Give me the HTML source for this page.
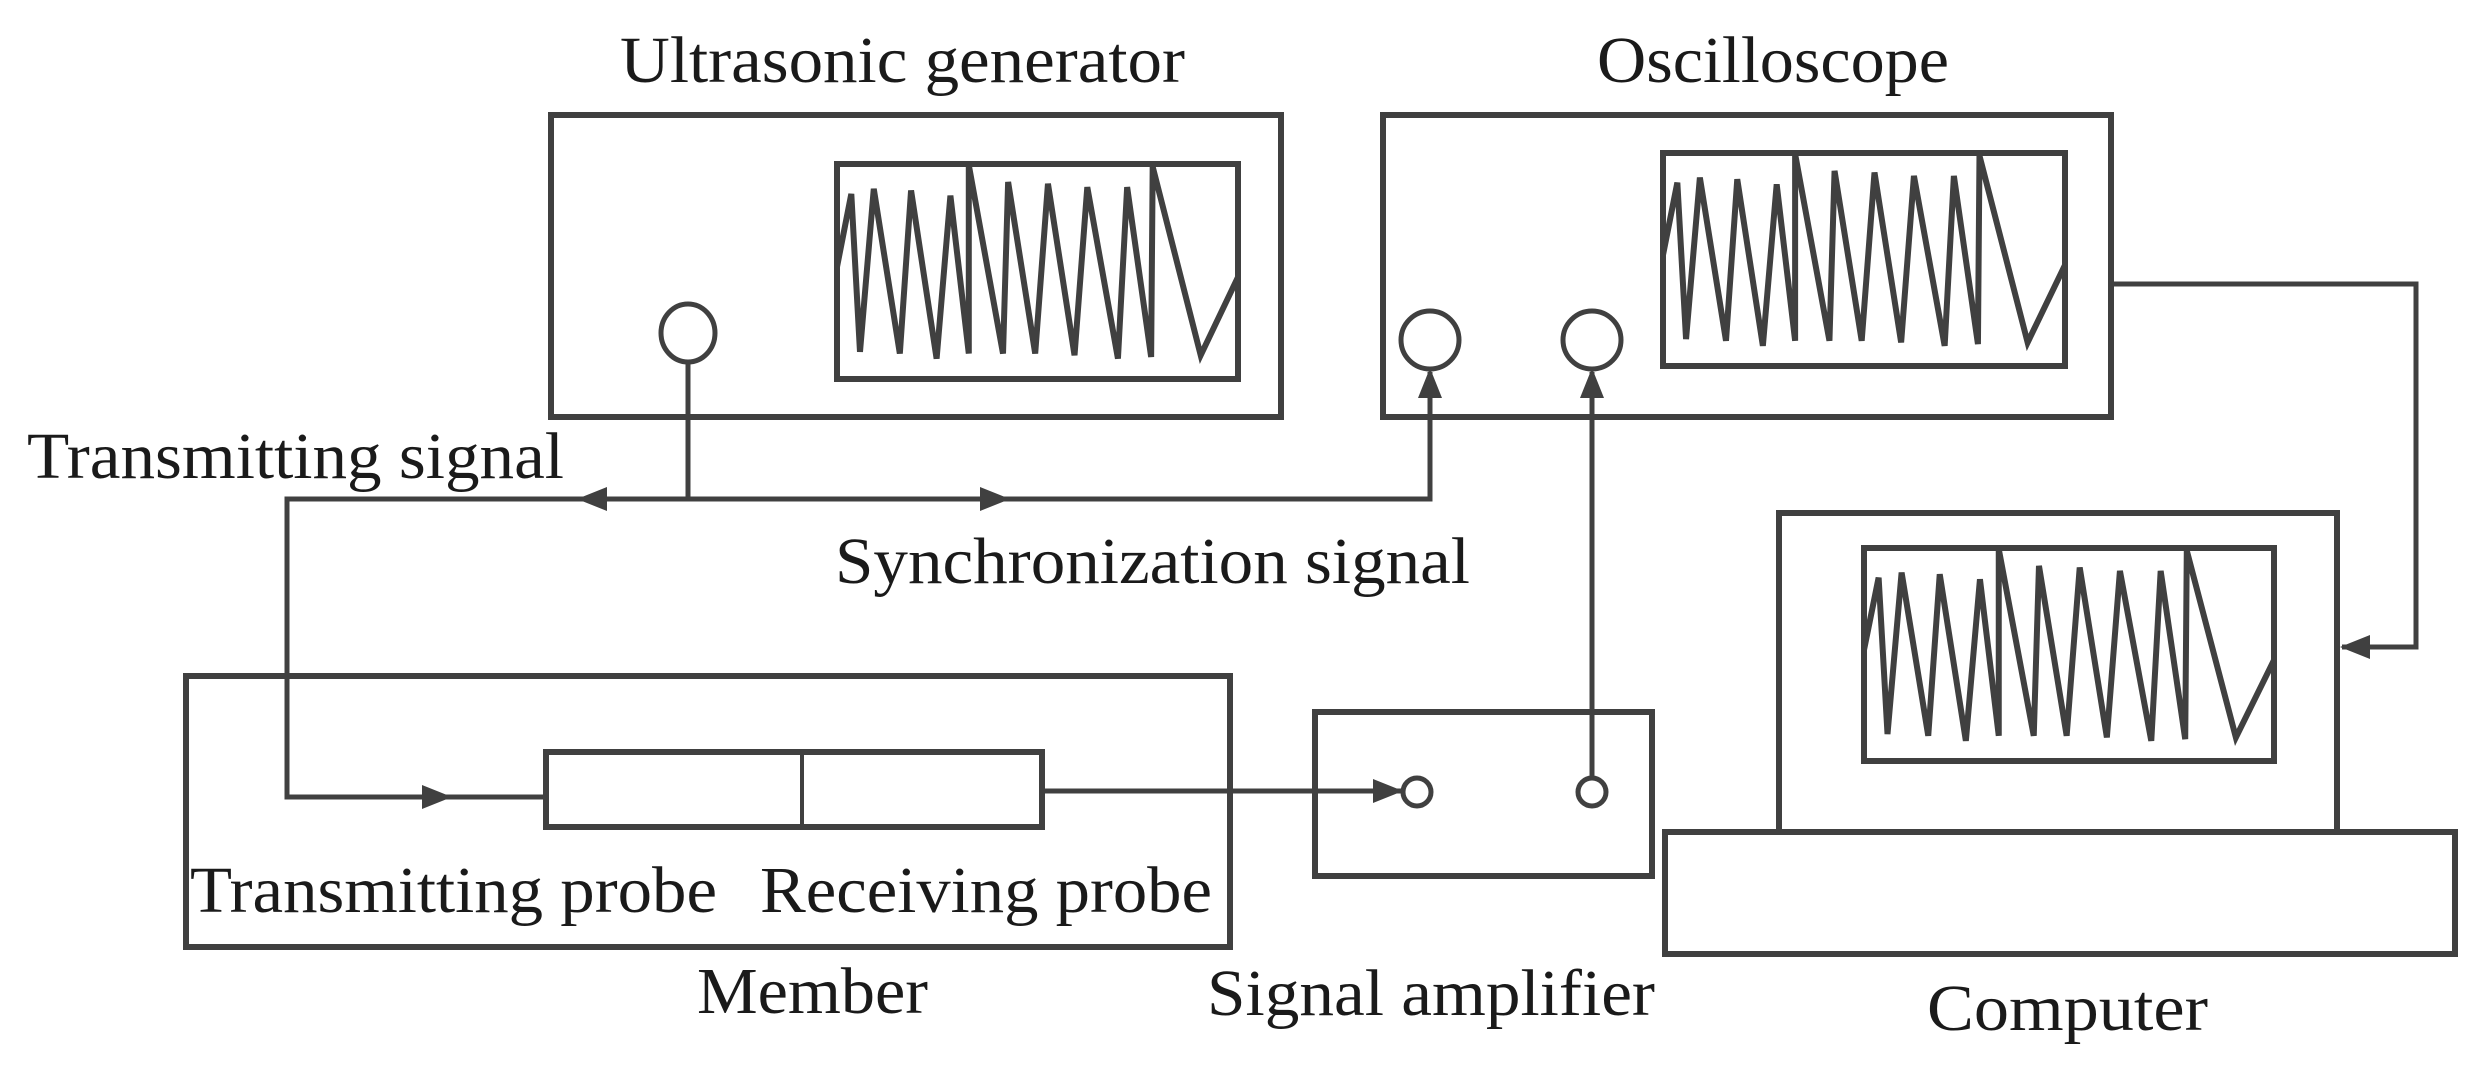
<!DOCTYPE html>
<html><head><meta charset="utf-8"><style>
html,body{margin:0;padding:0;background:#fff;}
svg{display:block;}
text{font-family:"Liberation Serif",serif;font-size:66px;fill:#1a1a1a;}
</style></head><body>
<svg width="2476" height="1069" viewBox="0 0 2476 1069" xmlns="http://www.w3.org/2000/svg">
<defs>
<g id="wave"><polyline fill="none" stroke="#404040" stroke-width="6" stroke-linejoin="miter" vector-effect="non-scaling-stroke" points="0,303 28,88 45,553 72,73 123,558 145,78 195,573 222,93 258,558 258,3 325,558 335,53 388,558 413,58 465,563 490,68 550,573 568,68 615,568 618,8 712,563 785,333"/></g>
</defs>
<g fill="none" stroke="#404040" stroke-width="6">
<rect x="551" y="115" width="730" height="302"/>
<rect x="837" y="164" width="401" height="215"/>
<rect x="1383" y="115" width="728" height="302"/>
<rect x="1663" y="153" width="402" height="213"/>
<rect x="1779" y="513" width="558" height="319"/>
<rect x="1864" y="548" width="410" height="213"/>
<rect x="1665" y="832" width="790" height="122"/>
<rect x="186" y="676" width="1044" height="271"/>
<rect x="546" y="752" width="496" height="75"/>
<rect x="1315" y="712" width="337" height="164"/>
</g>
<line x1="802" y1="752" x2="802" y2="827" stroke="#404040" stroke-width="4"/>
<g transform="translate(837,164) scale(0.5108,0.3397)"><use href="#wave"/></g>
<g transform="translate(1663,153) scale(0.5121,0.3365)"><use href="#wave"/></g>
<g transform="translate(1864,548) scale(0.5223,0.3365)"><use href="#wave"/></g>
<g fill="none" stroke="#404040" stroke-width="5">
<ellipse cx="688" cy="333" rx="27" ry="29"/>
<circle cx="1430" cy="340" r="29"/>
<circle cx="1592" cy="340" r="29"/>
<circle cx="1417" cy="792" r="14"/>
<circle cx="1592" cy="792" r="14"/>
</g>
<g fill="none" stroke="#404040" stroke-width="5">
<polyline points="688,362 688,499"/>
<polyline points="1430,372 1430,499 287,499 287,797 546,797"/>
<polyline points="1042,791 1403,791"/>
<polyline points="1592,778 1592,372"/>
<polyline points="2111,284 2416,284 2416,647 2342,647"/>
</g>
<g fill="#404040">
<polygon points="577,499 607,487 607,511"/>
<polygon points="1010,499 980,487 980,511"/>
<polygon points="1430,368 1418,398 1442,398"/>
<polygon points="1592,368 1580,398 1604,398"/>
<polygon points="452,797 422,785 422,809"/>
<polygon points="1403,791 1373,779 1373,803"/>
<polygon points="2340,647 2370,635 2370,659"/>
</g>
<text x="620" y="82" textLength="565" lengthAdjust="spacingAndGlyphs">Ultrasonic generator</text>
<text x="1597" y="82" textLength="352" lengthAdjust="spacingAndGlyphs">Oscilloscope</text>
<text x="27" y="478" textLength="537" lengthAdjust="spacingAndGlyphs">Transmitting signal</text>
<text x="835" y="583" textLength="635" lengthAdjust="spacingAndGlyphs">Synchronization signal</text>
<text x="190" y="912" textLength="527" lengthAdjust="spacingAndGlyphs">Transmitting probe</text>
<text x="760" y="912" textLength="452" lengthAdjust="spacingAndGlyphs">Receiving probe</text>
<text x="697" y="1013" textLength="231" lengthAdjust="spacingAndGlyphs">Member</text>
<text x="1207" y="1015" textLength="448" lengthAdjust="spacingAndGlyphs">Signal amplifier</text>
<text x="1927" y="1030" textLength="281" lengthAdjust="spacingAndGlyphs">Computer</text>
</svg>
</body></html>
